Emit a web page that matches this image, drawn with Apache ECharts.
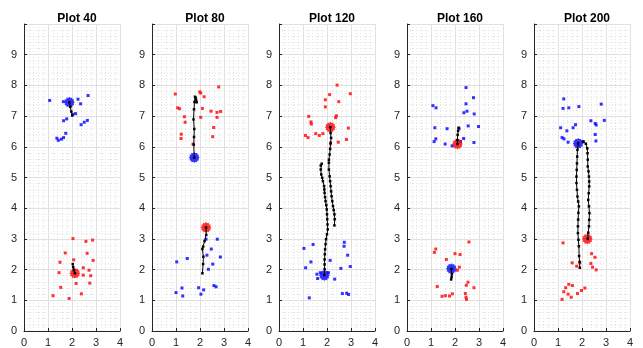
<!DOCTYPE html>
<html><head><meta charset="utf-8">
<script src="https://cdn.jsdelivr.net/npm/echarts@6/dist/echarts.min.js"></script>
<style>html,body{margin:0;padding:0;background:#fff}#c{width:643px;height:348px}</style>
</head><body><div id="c"></div>
<script>
const titles = ['Plot 40','Plot 80','Plot 120','Plot 160','Plot 200'];
const xTicks = [0,1,2,3,4];
const yTicks = [0,1,2,3,4,5,6,7,8,9];

// Plot 40
const p40Blue = [[1.07,7.51],[2.25,7.55],[2.67,7.67],[2.36,7.40],[1.64,7.47],[2.15,7.08],[2.03,7.06],[1.78,6.91],[1.65,6.85],[2.64,6.86],[2.51,6.80],[2.38,6.72],[1.74,6.44],[1.65,6.30],[1.56,6.25],[1.37,6.28],[1.43,6.21]];
const p40Red = [[2.04,3.01],[2.58,2.92],[2.86,2.96],[1.72,2.54],[2.63,2.53],[1.50,2.24],[2.07,2.32],[2.88,2.30],[2.47,2.06],[2.71,1.98],[1.46,1.90],[2.47,1.82],[2.78,1.80],[2.17,1.55],[2.74,1.56],[1.53,1.42],[2.39,1.21],[1.21,1.15],[1.88,1.06]];
const p40Paths = [[[1.89,7.45],[1.93,7.30],[1.97,7.15],[2.01,7.02]],[[2.12,1.88],[2.08,1.98],[2.05,2.08],[2.03,2.18]]];
const p40BlueBig = [[1.89,7.45]];
const p40RedBig = [[2.12,1.88]];

// Plot 80
const p80Blue = [[2.25,2.99],[2.72,2.99],[2.47,2.67],[1.47,2.36],[2.29,2.47],[2.85,2.41],[1.03,2.25],[2.53,2.18],[2.35,2.01],[2.58,1.48],[2.67,1.44],[1.25,1.40],[1.94,1.41],[1.00,1.25],[2.15,1.34],[2.04,1.20],[1.28,1.14]];
const p80Red = [[0.97,7.72],[1.99,7.79],[2.03,7.75],[2.17,7.63],[2.78,7.95],[1.07,7.27],[1.15,7.24],[2.10,7.25],[2.46,7.16],[2.71,7.12],[2.86,7.15],[1.35,6.98],[1.38,6.80],[2.03,6.96],[2.71,6.96],[2.57,6.63],[1.22,6.41],[1.21,6.27],[2.53,6.33],[1.71,6.09]];
const p80Paths = [[[1.76,5.65],[1.74,6.07],[1.75,6.32],[1.76,6.58],[1.73,6.89],[1.75,7.22],[1.77,7.46],[1.79,7.63],[1.82,7.60],[1.84,7.52],[1.86,7.45]],[[2.25,3.37],[2.26,3.13],[2.19,2.93],[2.13,2.75],[2.10,2.67],[2.14,2.42],[2.13,2.18],[2.10,1.88]]];
const p80BlueBig = [[1.76,5.65]];
const p80RedBig = [[2.25,3.37]];

// Plot 120
const p120Blue = [[1.04,2.69],[1.42,2.82],[2.72,2.89],[2.71,2.76],[2.86,2.47],[1.33,2.25],[2.13,2.30],[1.11,2.06],[2.97,2.10],[2.58,2.04],[1.58,1.85],[1.72,1.90],[1.61,1.71],[2.32,1.69],[2.64,1.22],[2.82,1.23],[2.90,1.19],[1.26,1.08],[2.06,1.90]];
const p120Red = [[2.42,8.01],[2.11,7.70],[2.97,7.73],[1.93,7.53],[2.49,7.47],[1.93,7.30],[2.39,7.01],[2.36,6.95],[1.24,6.99],[1.33,6.81],[1.35,6.74],[2.89,6.61],[1.53,6.43],[1.83,6.43],[1.68,6.37],[1.10,6.37],[1.21,6.30],[2.81,6.24],[2.47,6.15],[2.15,6.10]];
const p120Paths = [[[2.14,6.64],[2.15,6.45],[2.17,6.29],[2.15,6.13],[2.13,5.93],[2.11,5.75],[2.08,5.58],[2.08,5.48],[2.08,5.26],[2.11,5.04],[2.13,4.88],[2.15,4.72],[2.17,4.55],[2.19,4.39],[2.22,4.23],[2.25,4.07],[2.28,3.94],[2.31,3.80],[2.32,3.64],[2.31,3.44]],[[1.78,5.45],[1.74,5.39],[1.74,5.26],[1.76,5.10],[1.80,4.99],[1.83,4.88],[1.88,4.72],[1.89,4.61],[1.90,4.50],[1.92,4.36],[1.94,4.23],[1.97,4.10],[1.99,3.96],[2.00,3.80],[2.01,3.64],[2.02,3.47],[2.03,3.31],[2.00,3.15],[1.96,2.99],[1.94,2.83],[1.92,2.66],[1.91,2.50],[1.90,2.33],[1.90,2.17],[1.90,2.01],[1.89,1.82]]];
const p120BlueBig = [[1.89,1.81]];
const p120RedBig = [[2.14,6.64]];

// Plot 160
const p160Blue = [[2.46,7.93],[2.77,7.60],[1.08,7.34],[1.21,7.27],[2.46,7.40],[2.50,7.16],[2.37,7.11],[2.80,7.07],[1.16,6.62],[1.67,6.59],[2.17,6.59],[2.55,6.68],[2.98,6.66],[1.20,6.26],[1.13,6.17],[1.59,6.09],[1.88,6.03],[2.36,6.27],[2.23,6.17],[2.79,6.14]];
const p160Red = [[2.58,2.90],[1.20,2.67],[1.14,2.56],[2.00,2.52],[2.21,2.49],[1.64,2.33],[2.18,2.08],[2.10,1.98],[2.54,1.59],[2.47,1.49],[1.26,1.45],[2.79,1.41],[1.89,1.21],[2.43,1.22],[1.77,1.14],[1.46,1.13],[1.60,1.15],[2.46,1.10],[2.48,1.03]];
const p160Paths = [[[2.10,6.09],[2.10,6.22],[2.11,6.39],[2.13,6.52],[2.15,6.62]],[[1.85,2.02],[1.87,1.85],[1.86,1.76],[1.84,1.68]]];
const p160BlueBig = [[1.85,2.03]];
const p160RedBig = [[2.10,6.09]];

// Plot 200
const p200Blue = [[1.24,7.56],[1.21,7.25],[1.45,7.27],[1.87,7.31],[2.80,7.39],[1.11,6.62],[1.37,6.52],[1.73,6.72],[1.63,6.62],[2.37,6.85],[2.55,6.76],[2.59,6.71],[2.93,6.86],[1.17,6.30],[1.25,6.26],[2.55,6.40],[2.58,6.19],[1.42,6.15],[2.05,6.17]];
const p200Red = [[1.21,2.87],[2.40,2.52],[2.54,2.40],[1.59,2.22],[1.91,2.22],[2.37,2.20],[1.78,2.11],[2.44,2.08],[2.59,1.99],[1.45,1.52],[1.60,1.48],[1.32,1.41],[2.12,1.40],[1.98,1.32],[1.24,1.28],[1.42,1.20],[1.81,1.22],[1.55,1.10],[1.17,1.03]];
const p200Paths = [[[1.84,6.11],[1.81,5.90],[1.80,5.68],[1.79,5.46],[1.78,5.25],[1.77,5.03],[1.77,4.82],[1.79,4.60],[1.81,4.38],[1.84,4.22],[1.87,4.06],[1.85,3.85],[1.84,3.63],[1.83,3.41],[1.83,3.19],[1.85,2.97],[1.87,2.76],[1.88,2.44],[1.90,2.25],[1.91,2.06]],[[2.05,6.17],[2.16,6.10],[2.22,5.95],[2.23,5.79],[2.24,5.58],[2.24,5.36],[2.27,5.20],[2.29,5.03],[2.30,4.87],[2.30,4.71],[2.28,4.49],[2.26,4.27],[2.29,4.06],[2.31,3.84],[2.30,3.62],[2.29,3.41],[2.26,3.20],[2.24,3.00]]];
const p200BlueBig = [[1.84,6.11]];
const p200RedBig = [[2.22,3.00]];

const plots = [
  {blue:p40Blue, red:p40Red, paths:p40Paths, bb:p40BlueBig, rb:p40RedBig},
  {blue:p80Blue, red:p80Red, paths:p80Paths, bb:p80BlueBig, rb:p80RedBig},
  {blue:p120Blue, red:p120Red, paths:p120Paths, bb:p120BlueBig, rb:p120RedBig},
  {blue:p160Blue, red:p160Red, paths:p160Paths, bb:p160BlueBig, rb:p160RedBig},
  {blue:p200Blue, red:p200Red, paths:p200Paths, bb:p200BlueBig, rb:p200RedBig}
];

const lefts = [24, 152, 279, 407, 534];
const W = 96, TOP = 24, H = 308;
// fat jagged blob (many overlapping markers look)
const blobPts = [];
for (let k = 0; k < 24; k++) {
  const a = k * Math.PI / 12;
  const r = (k % 2 === 0) ? 50 : 40;
  blobPts.push((50 + r * Math.cos(a)).toFixed(1) + ',' + (50 + r * Math.sin(a)).toFixed(1));
}
const blob = 'path://M' + blobPts.join(' L') + ' Z';
const FONT = '"Liberation Sans", Arial, sans-serif';

const grid = [], xAxis = [], yAxis = [], series = [], title = [];
plots.forEach((p, i) => {
  grid.push({left: lefts[i], top: TOP, width: W, height: H, containLabel: false});
  title.push({text: titles[i], left: lefts[i] + W/2, top: 8, textAlign: 'center',
    textStyle: {fontFamily: FONT, fontSize: 12, fontWeight: 'bold', color: '#000'}});
  const axisCommon = {
    axisLine: {show: true, onZero: false, lineStyle: {color: '#262626', width: 1}},
    axisTick: {show: true, inside: true, length: 3, lineStyle: {color: '#262626'}},
    splitLine: {show: true, lineStyle: {color: '#e0e0e0', width: 1}},
    minorTick: {show: false, splitNumber: 5},
    minorSplitLine: {show: true, lineStyle: {color: '#e2e2e2', width: 1, type: [1, 2]}},
  };
  xAxis.push(Object.assign({type: 'value', gridIndex: i, min: xTicks[0], max: xTicks[xTicks.length-1], interval: 1,
    axisLabel: {fontFamily: FONT, fontSize: 11, color: '#262626', margin: 6}}, axisCommon));
  yAxis.push(Object.assign({type: 'value', gridIndex: i, min: yTicks[0], max: 10, interval: 1,
    axisLabel: {fontFamily: FONT, fontSize: 11, color: '#262626', margin: 7,
      formatter: v => (yTicks.indexOf(v) >= 0 ? String(v) : '')}}, axisCommon));
  series.push({type: 'scatter', xAxisIndex: i, yAxisIndex: i, data: p.blue, symbol: 'rect', symbolSize: 3,
    itemStyle: {color: '#0000ff'}, silent: true, z: 3});
  series.push({type: 'scatter', xAxisIndex: i, yAxisIndex: i, data: p.red, symbol: 'rect', symbolSize: 3,
    itemStyle: {color: '#ff0000'}, silent: true, z: 3});
  series.push({type: 'scatter', xAxisIndex: i, yAxisIndex: i, data: p.bb, symbol: blob, symbolSize: 11,
    itemStyle: {color: '#0000ff'}, silent: true, z: 4});
  series.push({type: 'scatter', xAxisIndex: i, yAxisIndex: i, data: p.rb, symbol: blob, symbolSize: 11,
    itemStyle: {color: '#ff0000'}, silent: true, z: 4});
  p.paths.forEach(path => {
    series.push({type: 'line', xAxisIndex: i, yAxisIndex: i, data: path, symbol: 'rect', symbolSize: 2.5,
      showSymbol: true, lineStyle: {color: '#000', width: 1}, itemStyle: {color: '#000'},
      animation: false, silent: true, z: 5});
  });
});

const chart = echarts.init(document.getElementById('c'), null, {renderer: 'canvas'});
chart.setOption({animation: false, backgroundColor: '#fff', title, grid, xAxis, yAxis, series});
</script></body></html>
